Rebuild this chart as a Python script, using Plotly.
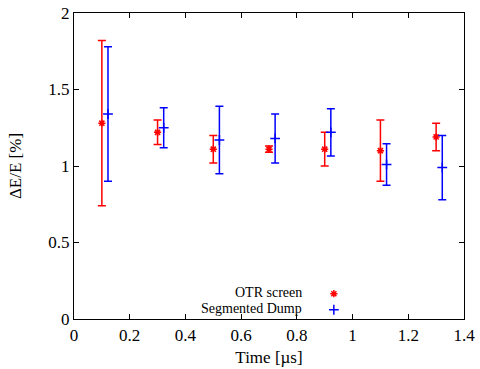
import plotly.graph_objects as go

# Data
time_otr = [0.1, 0.3, 0.5, 0.7, 0.9, 1.1, 1.3]
de_otr = [1.28, 1.22, 1.11, 1.11, 1.11, 1.10, 1.19]
err_otr = [0.54, 0.08, 0.09, 0.02, 0.11, 0.20, 0.09]

time_dump = [0.122, 0.322, 0.522, 0.722, 0.922, 1.122, 1.322]
de_dump = [1.34, 1.25, 1.17, 1.18, 1.22, 1.01, 0.99]
err_dump = [0.44, 0.13, 0.22, 0.16, 0.155, 0.135, 0.21]

series_names = ["OTR screen", "Segmented Dump"]
x_ticks = [0, 0.2, 0.4, 0.6, 0.8, 1, 1.2, 1.4]
y_ticks = [0, 0.5, 1, 1.5, 2]

FONT = ("'Liberation Serif', 'Times New Roman', 'Nimbus Roman', 'FreeSerif', "
        "'Noto Serif', 'DejaVu Serif', serif")

fig = go.Figure()
fig.add_trace(go.Scatter(
    x=time_otr, y=de_otr, mode="markers", name="", legend="legend",
    marker=dict(symbol="asterisk-open", size=6, color="#ff0000",
                line=dict(color="#ff0000", width=1.5)),
    error_y=dict(type="data", array=err_otr, visible=True,
                 color="#ff0000", thickness=1.5, width=4),
))
fig.add_trace(go.Scatter(
    x=time_dump, y=de_dump, mode="markers", name="", legend="legend2",
    marker=dict(symbol="cross-thin-open", size=7, color="#0000ff",
                line=dict(color="#0000ff", width=1.5)),
    error_y=dict(type="data", array=err_dump, visible=True,
                 color="#0000ff", thickness=1.5, width=4),
))

axis_common = dict(
    showgrid=False, zeroline=False, showline=True, linecolor="black",
    linewidth=1.2, mirror="allticks", ticks="inside", ticklen=5,
    tickcolor="black", tickfont=dict(family=FONT, size=17, color="black"),
    automargin=False,
)

legend_common = dict(xanchor="left", yanchor="top", bgcolor="rgba(0,0,0,0)",
                     font=dict(family=FONT, size=10), itemwidth=30)

fig.update_layout(
    width=480, height=369, autosize=False,
    margin=dict(l=74, r=16, t=13, b=50, autoexpand=False),
    paper_bgcolor="white", plot_bgcolor="white",
    font=dict(family=FONT, color="black"),
    xaxis=dict(range=[0, 1.4], tickvals=x_ticks,
               ticktext=[f"{v:g}" for v in x_ticks],
               title=dict(text="Time [µs]", font=dict(family=FONT, size=17), standoff=7),
               **axis_common),
    yaxis=dict(range=[0, 2], tickvals=y_ticks,
               ticktext=[f"{v:g}" for v in y_ticks],
               title=dict(text="ΔE/E [%]", font=dict(family=FONT, size=17), standoff=22),
               **axis_common),
    showlegend=True,
    legend=dict(x=0.615, y=0.130, **legend_common),
    legend2=dict(x=0.615, y=0.0776, **legend_common),
    annotations=[
        dict(text=series_names[0], xref="paper", yref="paper", x=0.59, y=0.0858,
             xanchor="right", yanchor="middle", showarrow=False,
             font=dict(family=FONT, size=14, color="black")),
        dict(text=series_names[1], xref="paper", yref="paper", x=0.59, y=0.0336,
             xanchor="right", yanchor="middle", showarrow=False,
             font=dict(family=FONT, size=14, color="black")),
    ],
)

fig.write_html("out.html")
